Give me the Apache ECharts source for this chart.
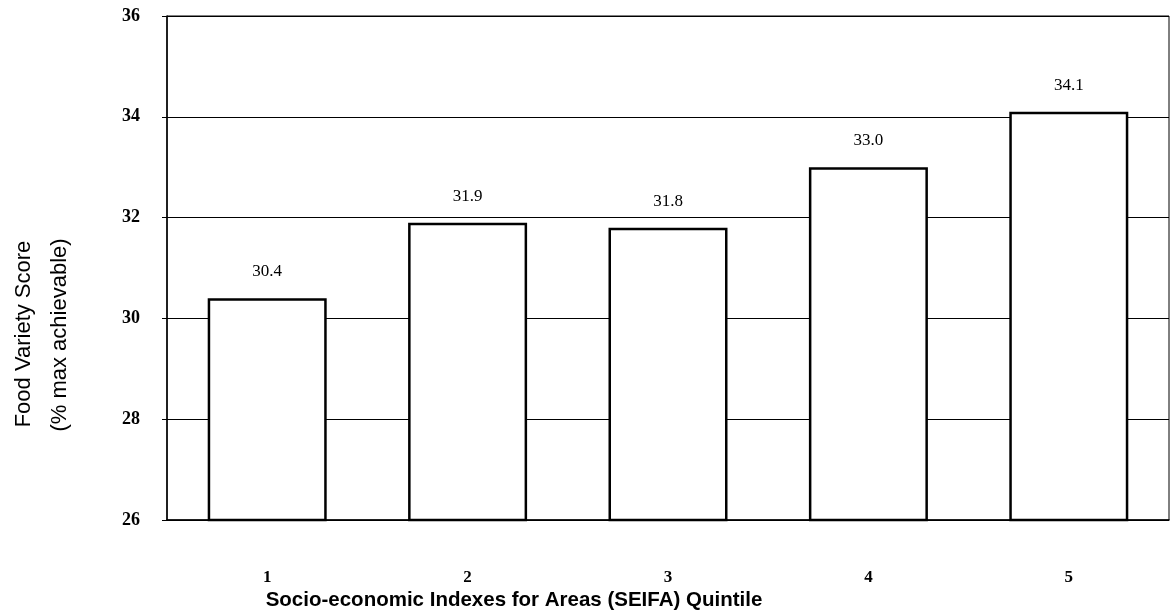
<!DOCTYPE html>
<html>
<head>
<meta charset="utf-8">
<script src="https://cdn.jsdelivr.net/npm/echarts@6/dist/echarts.min.js"></script>
<style>
  html, body { margin: 0; padding: 0; background: #fff; }
  #chart { width: 1173px; height: 613px; }
</style>
</head>
<body>
<div id="chart"></div>
<script>
// SEIFA quintiles and mean food variety score (% of max achievable)
const quintiles = ['1', '2', '3', '4', '5'];
const foodVarietyScore = [30.4, 31.9, 31.8, 33.0, 34.1];
const yAxisTitle = ['Food Variety Score', '(% max achievable)'];
const xAxisTitle = 'Socio-economic Indexes for Areas (SEIFA) Quintile';

const serif = '"Liberation Serif", "Times New Roman", serif';
const sans = '"Liberation Sans", Arial, sans-serif';

const chart = echarts.init(document.getElementById('chart'), null, { renderer: 'canvas' });

chart.setOption({
  backgroundColor: '#ffffff',
  animation: false,
  grid: {
    left: 167, right: 4, top: 16, bottom: 93,
    show: true, borderColor: '#000', borderWidth: 1
  },
  xAxis: {
    type: 'category',
    data: quintiles,
    axisLine: { lineStyle: { color: '#000', width: 1.5 } },
    axisTick: { show: false },
    axisLabel: {
      margin: 49, color: '#000', fontFamily: serif,
      fontWeight: 'bold', fontSize: 17
    }
  },
  yAxis: {
    type: 'value',
    min: 26, max: 36, interval: 2,
    axisLine: { show: true, lineStyle: { color: '#000', width: 1.5 } },
    axisTick: { show: true, inside: false, length: 5, lineStyle: { color: '#000' } },
    axisLabel: {
      margin: 27, color: '#000', fontFamily: serif,
      fontWeight: 'bold', fontSize: 18
    },
    splitLine: { show: true, lineStyle: { color: '#000', width: 1 } }
  },
  series: [{
    type: 'bar',
    data: foodVarietyScore,
    barWidth: 119,
    itemStyle: { color: '#fff', borderColor: '#000', borderWidth: 2.5 },
    label: {
      show: true, position: 'top', distance: 18,
      formatter: p => p.value.toFixed(1),
      color: '#000', fontFamily: serif, fontSize: 17
    }
  }],
  graphic: [
    {
      type: 'text', x: 24, y: 334, rotation: Math.PI / 2,
      style: {
        text: yAxisTitle[0], fill: '#000', font: '22px ' + sans,
        textAlign: 'center', textVerticalAlign: 'middle'
      }
    },
    {
      type: 'text', x: 60, y: 335, rotation: Math.PI / 2,
      style: {
        text: yAxisTitle[1], fill: '#000', font: '22px ' + sans,
        textAlign: 'center', textVerticalAlign: 'middle'
      }
    },
    {
      type: 'text', x: 514, y: 600,
      style: {
        text: xAxisTitle, fill: '#000', font: 'bold 20.5px ' + sans,
        textAlign: 'center', textVerticalAlign: 'middle'
      }
    }
  ]
});
</script>
</body>
</html>
